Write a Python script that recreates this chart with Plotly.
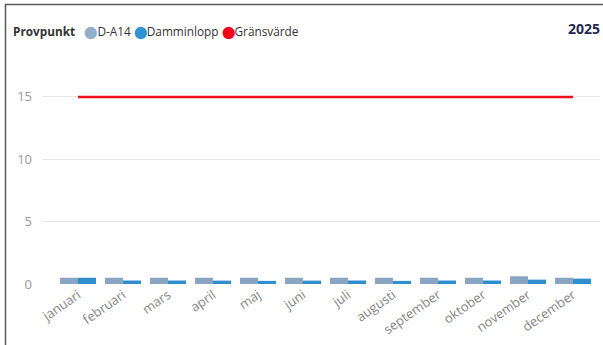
import plotly.graph_objects as go

months = ["januari", "februari", "mars", "april", "maj", "juni", "juli",
          "augusti", "september", "oktober", "november", "december"]
d_a14 = [0.5, 0.5, 0.5, 0.5, 0.5, 0.5, 0.5, 0.5, 0.5, 0.5, 0.62, 0.5]
damminlopp = [0.5, 0.28, 0.28, 0.27, 0.25, 0.27, 0.28, 0.25, 0.28, 0.28, 0.35, 0.43]
gransvarde = [15] * 12
y_ticks = [0, 5, 10, 15]

W, H = 603, 345
L, R, T, B = 42, 3, 47, 61
PW, PH = W - L - R, H - T - B


def px(x):
    return (x - L) / PW


def py(y):
    return (H - B - y) / PH


fig = go.Figure()
fig.add_trace(go.Bar(x=months, y=d_a14, name="D-A14", marker_color="#8BA4C2",
                     marker_line_width=0, showlegend=False))
fig.add_trace(go.Bar(x=months, y=damminlopp, name="Damminlopp", marker_color="#2F8FCE",
                     marker_line_width=0, showlegend=False))
fig.add_trace(go.Scatter(x=months, y=gransvarde, name="Gränsvärde", mode="lines",
                         line=dict(color="#F0101C", width=2.5), showlegend=False))

font = "Open Sans, Noto Sans, sans-serif"
dot = "<span style='color:{}'>⬤</span>"
legend_text = ("<b>Provpunkt</b>   " + dot.format("#93AECB") + "D-A14 "
               + dot.format("#2E93D1") + "Damminlopp "
               + dot.format("#F5001A") + "Gränsvärde")

fig.update_layout(
    width=W, height=H,
    margin=dict(l=L, r=R, t=T, b=B),
    paper_bgcolor="white", plot_bgcolor="white",
    barmode="group", bargap=0.2, bargroupgap=0,
    font=dict(family=font, size=12, color="#777777"),
    xaxis=dict(type="category", range=[-0.8, 11.6], tickangle=-35,
               showgrid=False, showline=False, zeroline=False,
               tickfont=dict(size=13, color="#858585")),
    yaxis=dict(range=[0, 19], tickvals=y_ticks, showgrid=True,
               gridcolor="#E6E6E6", gridwidth=1, zeroline=False, showline=False,
               ticklabelstandoff=9, tickfont=dict(size=13, color="#9a9a9a")),
    annotations=[
        dict(text=legend_text, xref="paper", yref="paper", x=px(11), y=py(31),
             xanchor="left", yanchor="middle", showarrow=False,
             font=dict(family=font, size=11.8, color="#333333")),
        dict(text="<b>2025</b>", xref="paper", yref="paper", x=px(602), y=py(28),
             xanchor="right", yanchor="middle", showarrow=False,
             font=dict(family=font, size=14, color="#252850")),
    ],
    shapes=[
        dict(type="rect", xref="paper", yref="paper",
             x0=px(5.5), x1=px(760), y0=py(500), y1=py(4.5),
             line=dict(color="#5a5a5a", width=1.5), fillcolor="rgba(0,0,0,0)",
             layer="above"),
    ],
)

fig.write_html("out.html")
